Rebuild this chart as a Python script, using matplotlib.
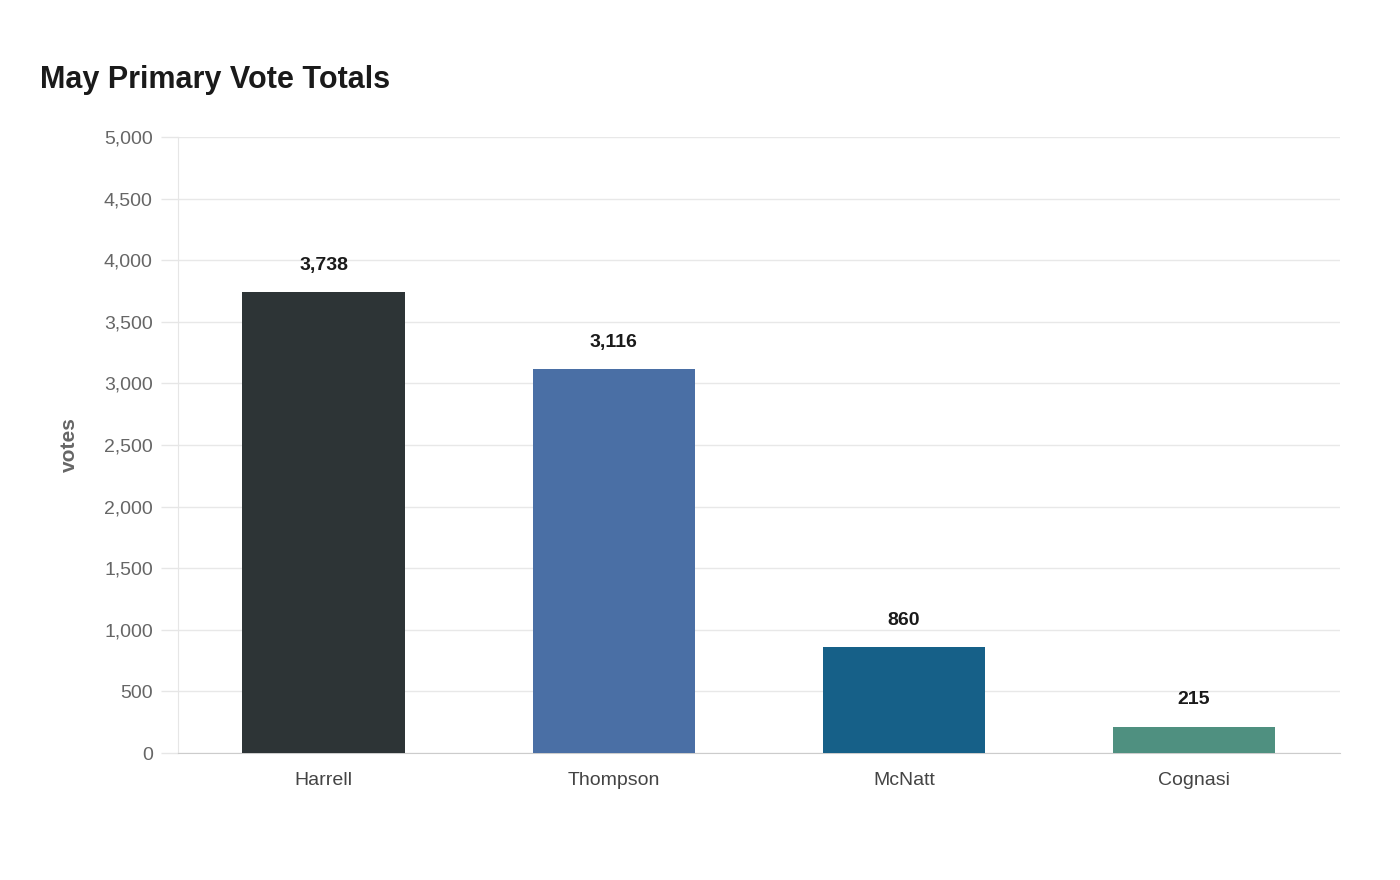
import matplotlib
matplotlib.use("Agg")
import matplotlib.pyplot as plt

candidates = ["Harrell", "Thompson", "McNatt", "Cognasi"]
votes = [3738, 3116, 860, 215]
colors = ["#2d3436", "#4a6fa5", "#166088", "#4f9080"]
yticks = [0, 500, 1000, 1500, 2000, 2500, 3000, 3500, 4000, 4500, 5000]

plt.rcParams['font.family'] = ['Liberation Sans', 'DejaVu Sans']
fig = plt.figure(figsize=(14, 8.8), dpi=100)
ax = fig.add_axes([0.127, 0.1443, 0.83, 0.7])
x = range(len(candidates))
ax.bar(x, votes, width=0.56, color=colors, zorder=3)
for i, v in zip(x, votes):
    ax.text(i, v + 150, f"{v:,}", ha="center", va="bottom", fontsize=14,
            fontweight="bold", color="#1a1a1a")
ax.set_xlim(-0.503, 3.503)
ax.set_ylim(0, 5000)
ax.set_yticks(yticks)
ax.set_yticklabels([f"{t:,}" for t in yticks])
ax.set_xticks(list(x))
ax.set_xticklabels(candidates)
ax.tick_params(axis="x", length=0, pad=14, labelsize=14, labelcolor="#444444")
ax.tick_params(axis="y", length=12, width=1, color="#e6e6e6", pad=6, labelsize=14, labelcolor="#666666")
ax.grid(axis="y", color="#e8e8e8", lw=1, zorder=0)
for s in ["top", "right"]:
    ax.spines[s].set_visible(False)
ax.spines["left"].set_color("#e6e6e6")
ax.spines["bottom"].set_color("#cccccc")
ax.set_ylabel("votes", fontsize=15, fontweight="bold", color="#666666", labelpad=18)
fig.text(40/1400, 1 - 80/880, "May Primary Vote Totals", fontsize=22, fontweight="bold",
         color="#1a1a1a", va="center", ha="left")
fig.savefig("out.png", dpi=100, facecolor="white")
